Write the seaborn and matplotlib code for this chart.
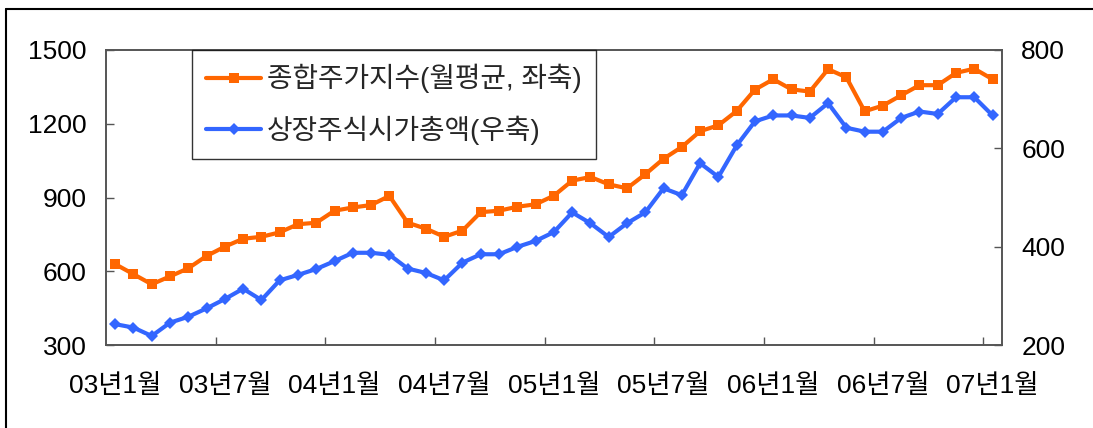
import matplotlib
matplotlib.use("Agg")
import matplotlib.pyplot as plt
import seaborn as sns

sns.set_theme(style="white")
plt.rcParams["font.family"] = ["Liberation Sans", "Noto Sans CJK KR", "DejaVu Sans"]

# 2003.01 ~ 2007.01 monthly
tick_labels = ["03년1월", "03년7월", "04년1월", "04년7월", "05년1월",
               "05년7월", "06년1월", "06년7월", "07년1월"]
kospi = [630, 589, 548, 580, 613, 663, 701, 733, 741, 759, 792, 798,
         847, 860, 870, 907, 798, 774, 741, 766, 841, 847, 863, 873,
         908, 969, 984, 954, 938, 995, 1058, 1106, 1170, 1194, 1252, 1339,
         1381, 1340, 1331, 1422, 1389, 1251, 1274, 1316, 1357, 1357, 1407, 1424,
         1381]
mcap = [243, 236, 219, 246, 258, 275, 294, 315, 292, 332, 343, 355,
        371, 388, 388, 384, 356, 347, 332, 368, 385, 385, 400, 412,
        430, 470, 448, 420, 448, 470, 519, 505, 570, 542, 606, 655,
        667, 667, 662, 692, 642, 634, 634, 662, 675, 670, 704, 704,
        667]
label_kospi = "종합주가지수(월평균, 좌축)"
label_mcap = "상장주식시가총액(우축)"

idx = list(range(len(kospi)))

fig = plt.figure(figsize=(10.93, 4.28), dpi=100)
ax = fig.add_axes([0.0970, 0.1932, 0.8195, 0.6900])
ax2 = ax.twinx()

sns.lineplot(x=idx, y=kospi, ax=ax, color="#FF6600", linewidth=3,
             marker="s", markersize=7, markeredgewidth=0, label=label_kospi, legend=False)
sns.lineplot(x=idx, y=mcap, ax=ax2, color="#3366FF", linewidth=3,
             marker="D", markersize=6, markeredgewidth=0, label=label_mcap, legend=False)

ax.set_xlim(-0.5, 48.5)
ax.set_ylim(300, 1500)
ax2.set_ylim(200, 800)
ax.set_yticks([300, 600, 900, 1200, 1500])
ax2.set_yticks([200, 400, 600, 800])
ax.set_xticks(list(range(0, 49, 6)))
ax.set_xticklabels(tick_labels)
ax.set_xticks([i + 5.5 for i in range(0, 48, 6)], minor=True)
for a in (ax, ax2):
    a.set_xlabel("")
    a.set_ylabel("")
    a.grid(False)
    for s in a.spines.values():
        s.set_color("#555555")
        s.set_linewidth(1.2)

ax.tick_params(axis="x", which="major", length=0, pad=21, labelsize=19, colors="black")
ax.tick_params(axis="x", which="minor", bottom=True, direction="in", length=6,
               width=1, color="#555555")
ax.tick_params(axis="y", direction="in", length=6, width=1, color="#555555",
               pad=14, labelsize=19, labelcolor="black", left=True)
ax2.tick_params(axis="y", direction="in", length=6, width=1, color="#555555",
                pad=14, labelsize=19, labelcolor="black", right=True)

h1, l1 = ax.get_legend_handles_labels()
h2, l2 = ax2.get_legend_handles_labels()
leg = ax2.legend(h1 + h2, l1 + l2, loc="upper left", bbox_to_anchor=(0.096, 1.0),
                 borderaxespad=0, fontsize=20, frameon=True, fancybox=False,
                 handlelength=2.0, handletextpad=0.2, labelspacing=0.8,
                 borderpad=0.5)
leg.get_frame().set_edgecolor("black")
leg.get_frame().set_linewidth(1.0)

fig.add_artist(plt.Line2D([0.0055, 0.0055], [0, 0.979], transform=fig.transFigure,
                          color="black", lw=1.5))
fig.add_artist(plt.Line2D([0.0055, 1.0], [0.979, 0.979], transform=fig.transFigure,
                          color="black", lw=1.5))

plt.savefig("out.png", dpi=100)
